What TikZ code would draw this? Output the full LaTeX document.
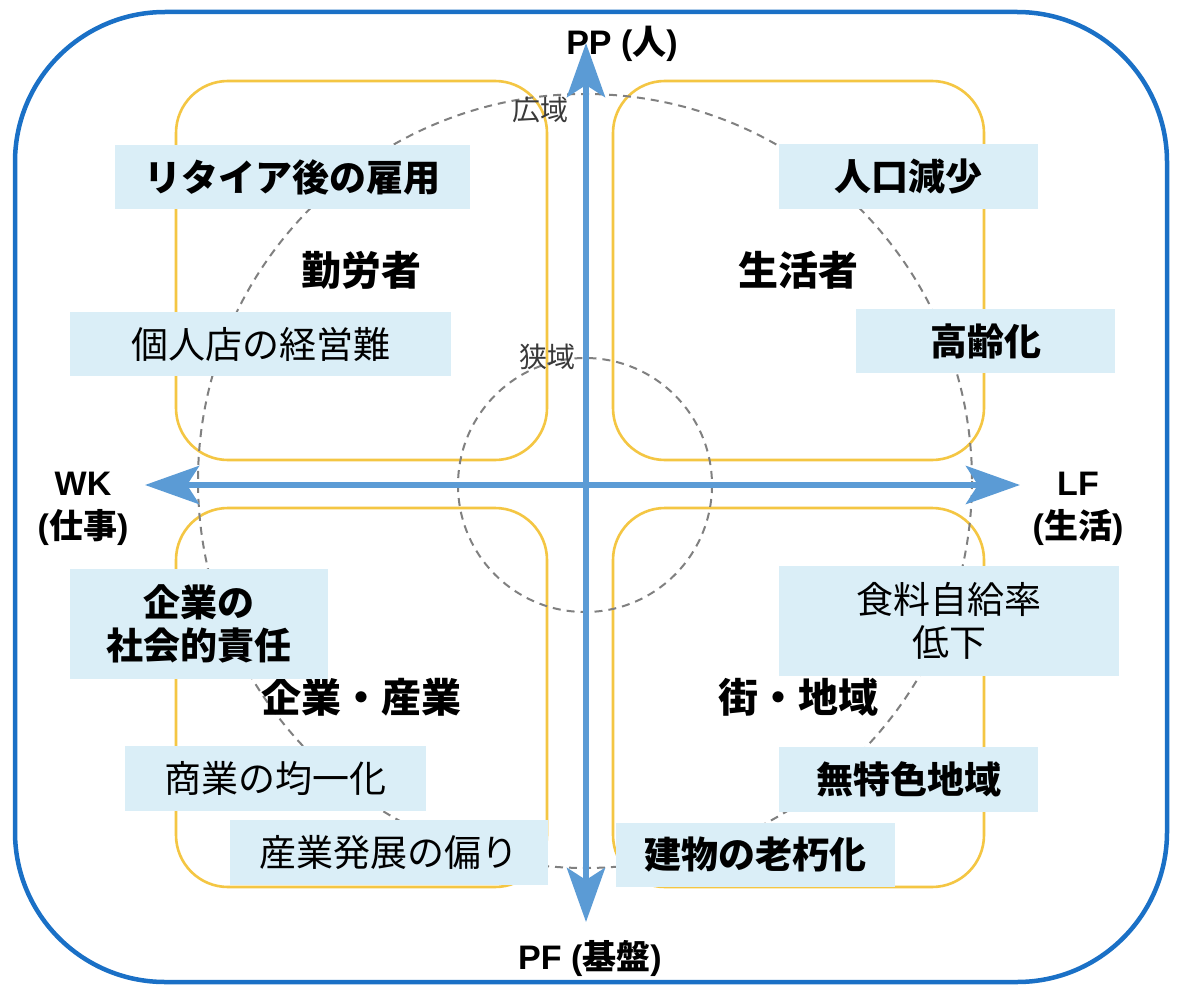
\documentclass[tikz,border=0pt]{standalone}
\usepackage{fontspec}
\setmainfont{Liberation Sans}
\newfontfamily\jp{Noto Sans CJK JP}
\usetikzlibrary{arrows.meta}
\definecolor{frameblue}{HTML}{1A70C6}
\definecolor{axisblue}{HTML}{5B9BD5}
\definecolor{quadyellow}{HTML}{F4C643}
\definecolor{tagfill}{HTML}{DAEEF7}
\definecolor{dashgray}{HTML}{808080}
\definecolor{labelgray}{HTML}{3A3A3A}
\tikzset{
  frame/.style={draw=frameblue, line width=4.5pt, rounded corners=150pt},
  quad/.style={draw=quadyellow, line width=2.6pt, rounded corners=52pt},
  zone/.style={draw=dashgray, line width=2pt, dash pattern=on 8pt off 6pt},
  axis/.style={draw=axisblue, line width=6.5pt, {Stealth[length=54pt, width=38pt, inset=12pt]}-{Stealth[length=54pt, width=38pt, inset=12pt]}},
  tag/.style={fill=tagfill, inner sep=0pt, align=center, font=\jp\fontsize{37}{43}\selectfont},
  tagb/.style={tag, font=\jp\bfseries\fontsize{37}{43}\selectfont},
  cat/.style={inner sep=0pt, font=\jp\bfseries\fontsize{40}{46}\selectfont},
  axlabel/.style={inner sep=0pt, align=center, font=\bfseries\fontsize{34}{43}\selectfont},
  zonelabel/.style={inner sep=0pt, text=labelgray, font=\jp\fontsize{28}{32}\selectfont}
}
\begin{document}
\begin{tikzpicture}[x=1pt,y=-1pt]
\useasboundingbox (0,0) rectangle (1177,987);
\fill[white] (0,0) rectangle (1177,987);
% outer frame
\draw[frame] (15,12) rectangle (1167,982);
% quadrant boxes
\draw[quad] (176,81) rectangle (547,460);
\draw[quad] (613,81) rectangle (984,460);
\draw[quad] (176,508) rectangle (547,887);
\draw[quad] (613,508) rectangle (984,887);
% zone circles
\coordinate (o) at (585,481);
\draw[zone] (o) circle[radius=387];
\draw[zone] (585,485) circle[radius=127];
\node[zonelabel] (wide) at (540,110) {広域};
\node[zonelabel] (narrow) at (547,357) {狭域};
% axes
\coordinate (top) at (586,43);
\coordinate (bottom) at (586,922);
\coordinate (left) at (145,485);
\coordinate (right) at (1020,485);
\draw[axis] (bottom) -- (top);
\draw[axis] (left) -- (right);
% axis labels
\node[axlabel] (pp) at (622,44) {PP ({\jp 人})};
\node[axlabel] (wk) at (83,509) {WK\\({\jp 仕事})};
\node[axlabel] (lf) at (1078,509) {LF\\({\jp 生活})};
\node[axlabel] (pf) at (590,958) {PF ({\jp 基盤})};
% category labels
\node[cat] (c1) at (361,270) {勤労者};
\node[cat] (c2) at (798,270) {生活者};
\node[cat] (c3) at (361,697) {企業・産業};
\node[cat] (c4) at (798,697) {街・地域};
% issue tags
\node[tagb, minimum width=355pt, minimum height=64pt] (t1) at (292.5,177) {リタイア後の雇用};
\node[tagb, minimum width=259pt, minimum height=65pt] (t2) at (908.5,176.5) {人口減少};
\node[tag,  minimum width=381pt, minimum height=64pt] (t3) at (260.5,344) {個人店の経営難};
\node[tagb, minimum width=259pt, minimum height=64pt] (t4) at (985.5,341) {高齢化};
\node[tagb, minimum width=258pt, minimum height=110pt] (t5) at (199,624) {企業の\\社会的責任};
\node[tag,  minimum width=340pt, minimum height=110pt] (t6) at (949,621) {食料自給率\\低下};
\node[tag,  minimum width=301pt, minimum height=65pt] (t7) at (275.5,778.5) {商業の均一化};
\node[tagb, minimum width=259pt, minimum height=65pt] (t8) at (908.5,779.5) {無特色地域};
\node[tag,  minimum width=318pt, minimum height=65pt] (t9) at (389,852.5) {産業発展の偏り};
\node[tagb, minimum width=279pt, minimum height=64pt] (t10) at (755.5,855) {建物の老朽化};
\end{tikzpicture}
\end{document}
